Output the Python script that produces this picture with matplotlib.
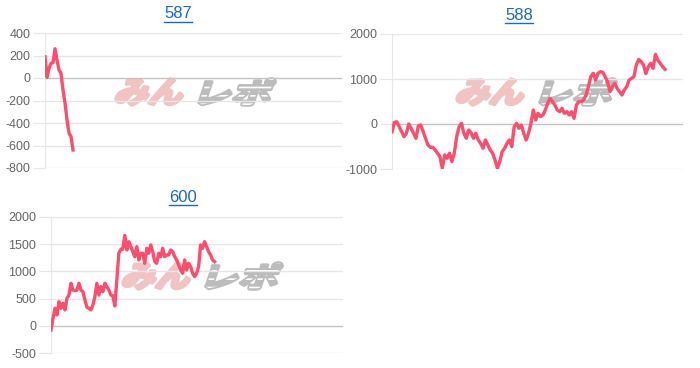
import matplotlib
matplotlib.use('Agg')
import matplotlib.pyplot as plt
import numpy as np
from matplotlib.textpath import TextPath
from matplotlib.font_manager import FontProperties
from matplotlib.patches import PathPatch
from matplotlib.transforms import Affine2D, IdentityTransform
from matplotlib.lines import Line2D

plt.rcParams['font.family'] = ['Liberation Sans', 'DejaVu Sans']
plt.rcParams['hatch.linewidth'] = 1.2

# --- dane ---
titles = ['587', '588', '600']

s587 = [189, 6, 86, 130, 136, 260, 160, 71, 42, -107, -222, -373, -490, -520, -640]

s588 = [-170, 37, 50, -60, -170, -280, -207, 0, -96, -207, -318, -40, -22, -170, -318,
        -466, -518, -518, -577, -650, -725, -983, -688, -762, -650, -836, -650, -282, -60, 15,
        -207, -318, -133, -193, -318, -207, -355, -430, -540, -355, -466, -577, -650, -800, -983,
        -836, -614, -540, -430, -355, -503, -60, 15, -96, -22,
        -207, -355, -207, 15, 311, 89, 237, 163, 200, 311, 459, 570, 496, 422, 311,
        274, 348, 237, 274, 200, 274, 126, 422, 496, 496, 533, 644, 829, 1051, 1126,
        978, 1126, 1163, 1148, 1051, 940, 718, 829, 903, 792, 718, 644, 755, 829, 978,
        1015, 1051, 1311, 1437, 1385, 1311, 1120, 1274, 1348, 1237, 1548, 1415, 1348, 1274, 1215]

s600 = [-77, 138, 322, 199, 444, 322, 414, 291, 506, 567, 781, 658, 646, 658, 781,
        658, 627, 475, 340, 322, 291, 383, 536, 781, 567, 720, 627, 781, 720, 658,
        567, 548, 364, 843, 1333, 1406, 1406, 1660, 1394, 1546, 1455,
        1363, 1271, 1455, 1210, 1333, 1333, 1149, 1425, 1333, 1486, 1363, 1179, 1149, 1333,
        1271, 1425, 1271, 1302, 1302, 1394, 1363, 1271, 1210, 1118, 1026, 965, 1210, 1026,
        1149, 1088, 965, 904, 965, 1088, 1486, 1425, 1546, 1455, 1363, 1302, 1210, 1179]

# dlugosc osi x (liczba pozycji) i zakresy osi y
x_slots = [148.5, 121.5, 146.4]
y_limits = [(-800, 400), (-1000, 2000), (-500, 2000)]
y_steps = [200, 1000, 500]

LINE = '#ff4d6d'
GRID = '#e6e6e6'
ZERO = '#c4c4c4'
TICK = '#666666'
LINK = '#1a66cc'


def logo(fig, cx, cy):
    # znak wodny "みんレポ" jako pochylona, pogrubiona sciezka tekstu
    fp = FontProperties(family='Noto Sans CJK JP', weight='bold')
    parts = [('みん', '#f1c3c3', -44, 74, False), ('レポ', '#bcbcbc', 42, 78, True)]
    h = 26
    for s, col, dx, w, streaks in parts:
        tp = TextPath((0, 0), s, size=40, prop=fp)
        ext = tp.get_extents()
        sk = np.tan(np.radians(18)) * h
        tr = (Affine2D().translate(-(ext.x0 + ext.x1) / 2, -(ext.y0 + ext.y1) / 2)
              .scale((w - sk) / ext.width, h / ext.height)
              .skew_deg(18, 0).translate(cx + dx, cy))
        path = tr.transform_path(tp)
        fig.add_artist(PathPatch(path, facecolor=col, edgecolor=col, lw=2.6,
                                 joinstyle='round', transform=IdentityTransform(),
                                 zorder=-2))
        if streaks:
            fig.add_artist(PathPatch(path, facecolor='none', edgecolor='white', lw=0,
                                     hatch='--', transform=IdentityTransform(),
                                     zorder=-1))


def setup_axes(ax, data, xmax, ylim, step):
    ax.set_facecolor('none')
    x = np.arange(len(data))
    ax.plot(x, data, color=LINE, lw=2.4, solid_joinstyle='round', zorder=3)
    ax.set_xlim(0, xmax)
    ax.set_ylim(*ylim)
    ticks = np.arange(ylim[0], ylim[1] + 1, step)
    ax.set_yticks(ticks)
    ax.set_yticklabels([str(t) for t in ticks])
    for t in ticks:
        ax.axhline(t, color=ZERO if t == 0 else GRID, lw=1, zorder=1)
    ax.set_xticks([])
    for sp in ['top', 'right', 'bottom']:
        ax.spines[sp].set_visible(False)
    ax.spines['left'].set_color(GRID)
    ax.tick_params(axis='y', length=9, color=GRID, pad=1.5, labelsize=9, labelcolor=TICK)


fig = plt.figure(figsize=(7, 3.68), dpi=100)
W, H = 700, 368

# pozycje osi w pikselach: lewo, gora, prawo, dol
boxes = [(45, 33, 342, 168), (392, 34, 683, 169), (51, 217, 343, 353)]
title_pos = [(178, 14), (519, 15), (183, 198)]
logo_pos = [(195, 92), (536, 92), (202, 276)]
series = [s587, s588, s600]

for i in range(3):
    l, t, r, b = boxes[i]
    ax = fig.add_axes([l / W, 1 - b / H, (r - l) / W, (b - t) / H])
    setup_axes(ax, series[i], x_slots[i], y_limits[i], y_steps[i])
    lx, ly = logo_pos[i]
    logo(fig, lx, H - ly)

fig.canvas.draw()
for i in range(3):
    tx, ty = title_pos[i]
    txt = fig.text(tx / W, 1 - ty / H, titles[i], color=LINK, fontsize=12,
                   ha='center', va='center')
    fig.canvas.draw()
    bb = txt.get_window_extent()
    fig.add_artist(Line2D([bb.x0, bb.x1], [bb.y0, bb.y0], color=LINK, lw=1,
                          transform=IdentityTransform()))

fig.savefig('out.png', dpi=100)
